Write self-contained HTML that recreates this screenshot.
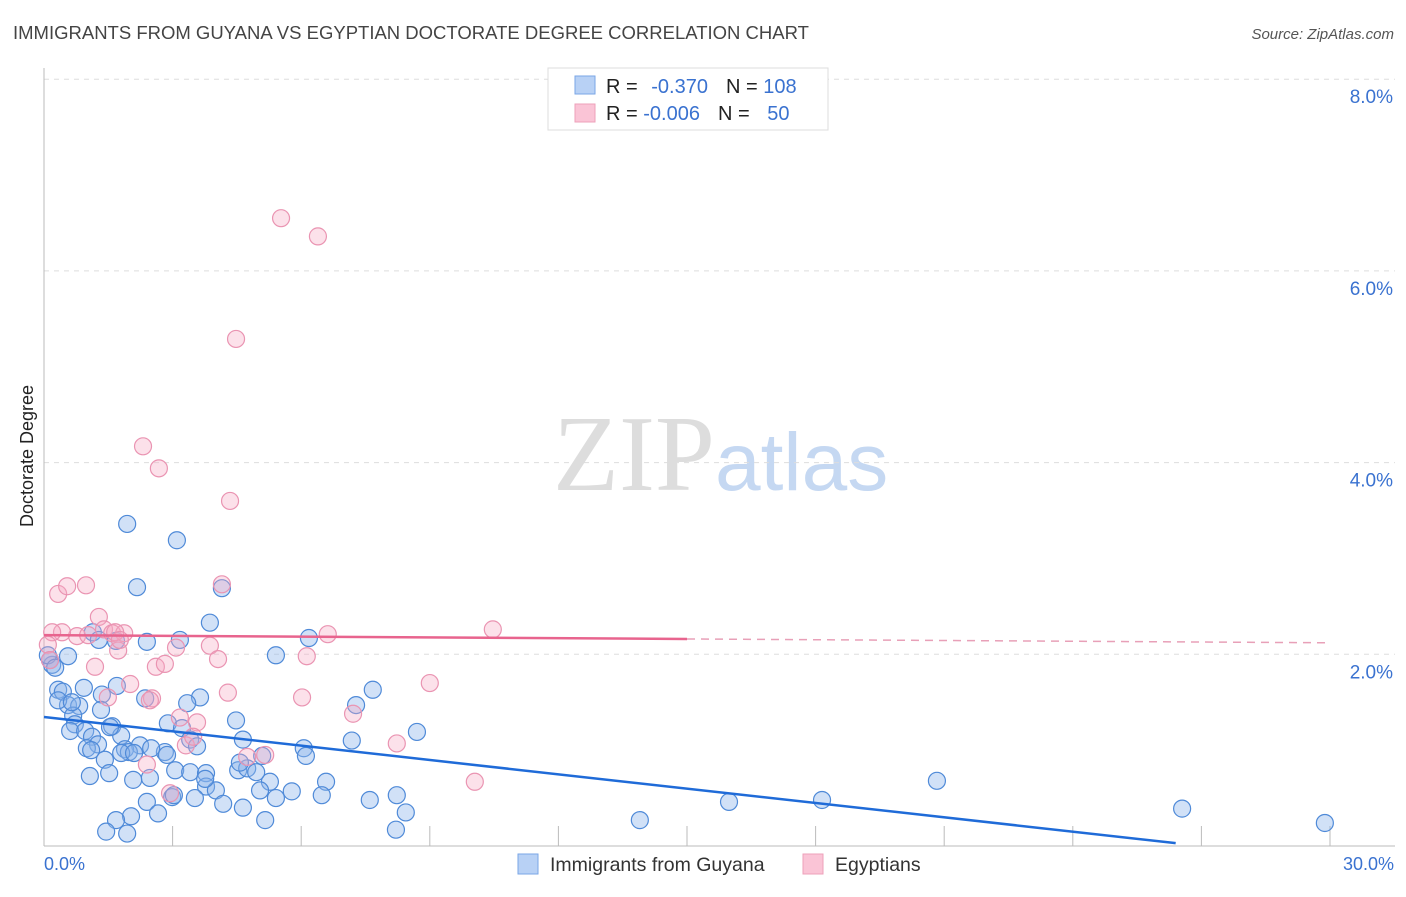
<!DOCTYPE html>
<html><head><meta charset="utf-8"><style>
body{margin:0;background:#fff;font-family:"Liberation Sans",sans-serif;}
</style></head><body>
<svg width="1406" height="892" xmlns="http://www.w3.org/2000/svg" style="font-family:'Liberation Sans',sans-serif">
<text x="13" y="39" font-size="18.5" fill="#444">IMMIGRANTS FROM GUYANA VS EGYPTIAN DOCTORATE DEGREE CORRELATION CHART</text>
<text x="1394" y="39" font-size="15" fill="#555" font-style="italic" text-anchor="end">Source: ZipAtlas.com</text>
<text x="553" y="490" font-size="108" fill="#ddd" font-family="Liberation Serif">ZIP<tspan fill="#c5d8f2" font-family="Liberation Sans" font-size="82">atlas</tspan></text>
<text transform="translate(33,456) rotate(-90)" font-size="18" fill="#222" text-anchor="middle">Doctorate Degree</text>
<g id="grid"></g><g id="pts"></g><g id="lines"></g>
<g>
<rect x="548" y="68" width="280" height="62" fill="#fff" stroke="#ddd"/>
<rect x="575" y="76" width="20" height="18" fill="#b8d1f5" stroke="#7aa6e6"/>
<rect x="575" y="104" width="20" height="18" fill="#fac4d6" stroke="#eea0ba"/>
<text x="606" y="93" font-size="20" fill="#222">R = <tspan fill="#3a72d0" dx="8">-0.370</tspan><tspan dx="18">N = </tspan><tspan fill="#3a72d0">108</tspan></text>
<text x="606" y="120" font-size="20" fill="#222">R = <tspan fill="#3a72d0">-0.006</tspan><tspan dx="18">N = </tspan><tspan fill="#3a72d0" dx="12">50</tspan></text>
</g>
<g>
<rect x="518" y="854" width="20" height="20" fill="#b8d1f5" stroke="#7aa6e6"/>
<text x="550" y="871" font-size="19.5" fill="#333">Immigrants from Guyana</text>
<rect x="803" y="854" width="20" height="20" fill="#fac4d6" stroke="#eea0ba"/>
<text x="835" y="871" font-size="19.5" fill="#333">Egyptians</text>
</g>
<text x="44" y="870" font-size="18" fill="#3a72d0">0.0%</text>
<text x="1394" y="870" font-size="18" fill="#3a72d0" text-anchor="end">30.0%</text>
</svg>
<script>
const blueX=[0.14,0.19,0.09,0.26,1.94,3.10,2.17,4.15,3.87,1.14,1.68,2.40,3.17,5.41,6.18,0.56,1.28,0.33,0.44,0.93,1.35,1.70,2.36,3.64,3.34,4.48,7.28,7.67,8.70,0.56,0.82,0.68,0.72,0.61,0.96,1.59,1.12,1.26,1.80,2.89,3.22,3.41,4.64,3.57,1.00,1.10,2.24,1.89,1.98,2.82,2.50,1.80,1.42,1.52,1.07,2.47,3.06,3.41,3.78,4.53,4.74,4.95,5.09,6.06,6.11,5.27,6.58,7.18,3.78,4.01,2.40,2.99,3.52,4.18,4.64,5.41,5.78,6.48,7.60,8.23,8.44,8.21,5.16,2.03,2.66,1.68,1.45,1.94,13.90,15.98,18.15,20.83,26.55,29.88,2.87,4.57,0.33,1.33,3.76,5.04,2.08,0.65,1.54,3.03,2.10];
const blueY=[1.94,1.89,1.99,1.86,3.36,3.19,2.70,2.69,2.33,2.23,2.14,2.13,2.15,1.99,2.17,1.98,2.15,1.63,1.61,1.65,1.58,1.67,1.54,1.55,1.49,1.31,1.47,1.63,1.19,1.47,1.46,1.36,1.27,1.20,1.20,1.25,1.14,1.06,1.15,1.28,1.23,1.11,1.11,1.04,1.02,1.00,1.05,1.01,0.98,0.98,1.02,0.97,0.90,0.76,0.73,0.71,0.79,0.77,0.76,0.79,0.81,0.77,0.94,1.02,0.94,0.67,0.67,1.10,0.62,0.58,0.46,0.51,0.50,0.44,0.40,0.50,0.57,0.53,0.48,0.53,0.35,0.17,0.27,0.31,0.34,0.27,0.15,0.13,0.27,0.46,0.48,0.68,0.39,0.24,0.95,0.87,1.52,1.42,0.70,0.58,0.69,1.50,1.24,0.53,0.97];
const pinkX=[5.53,6.39,4.48,2.31,2.68,4.34,4.15,0.33,0.54,0.98,1.28,1.40,0.77,0.42,0.19,0.09,0.14,1.03,1.19,1.59,1.87,1.73,1.49,2.01,2.52,2.61,2.82,3.08,3.87,4.06,6.13,6.62,10.47,4.29,6.02,7.21,9.00,3.17,3.57,3.31,3.48,5.16,4.74,8.23,10.05,2.40,2.94,2.47,1.66,1.77];
const pinkY=[6.55,6.36,5.29,4.17,3.94,3.60,2.73,2.63,2.71,2.72,2.39,2.26,2.19,2.23,2.23,2.10,1.94,2.20,1.87,2.22,2.22,2.04,1.55,1.69,1.54,1.87,1.90,2.07,2.09,1.95,1.98,2.21,2.26,1.60,1.55,1.38,1.70,1.34,1.29,1.05,1.14,0.95,0.93,1.07,0.67,0.85,0.55,1.52,2.23,2.15];
const yTicks=[2,4,6,8];
const yTickLabels=["2.0%","4.0%","6.0%","8.0%"];
const xTicks=[0,3,6,9,12,15,18,21,24,27,30];
const blueTrend=[[0,1.346],[26.4,0.03]];
const pinkTrend=[[0,2.20],[15,2.16],[30,2.12]];
const NS='http://www.w3.org/2000/svg';
const X=v=>44+v/30*1286, Y=v=>846-v*95.85;
function mk(t,a,p){const e=document.createElementNS(NS,t);for(const k in a)e.setAttribute(k,a[k]);p.appendChild(e);return e;}
const g=document.getElementById('grid');
yTicks.forEach((t,i)=>{
 const l=mk('line',{x1:44,x2:1395,y1:Y(t),y2:Y(t),stroke:'#ddd','stroke-dasharray':'5,5'},g);
 
 
 const tx=mk('text',{x:1393,y:Y(t)+24,'font-size':19,fill:'#3a72d0','text-anchor':'end'},g);
 tx.textContent=yTickLabels[i];
 
 
});
const ax=mk('line',{x1:44,x2:44,y1:68,y2:846,stroke:'#bbb'},g);


const bx=mk('line',{x1:44,x2:1395,y1:846,y2:846,stroke:'#bbb'},g);


xTicks.forEach(t=>{const l=mk('line',{x1:X(t),x2:X(t),y1:826,y2:846,stroke:'#bbb'},g);
 
 });
const p=document.getElementById('pts');
blueX.forEach((x,i)=>{const c=mk('circle',{cx:X(x),cy:Y(blueY[i]),r:8.5,fill:'rgba(140,180,235,0.4)',stroke:'#4f8ad8','stroke-width':1.2},p);
 
 });
pinkX.forEach((x,i)=>{const c=mk('circle',{cx:X(x),cy:Y(pinkY[i]),r:8.5,fill:'rgba(245,170,195,0.35)',stroke:'#ea94b2','stroke-width':1.2},p);
 
 });
const L=document.getElementById('lines');
const b=mk('line',{x1:X(blueTrend[0][0]),y1:Y(blueTrend[0][1]),x2:X(blueTrend[1][0]),y2:Y(blueTrend[1][1]),stroke:'#1f6bd8','stroke-width':2.5},L);


const pk=mk('line',{x1:X(pinkTrend[0][0]),y1:Y(pinkTrend[0][1]),x2:X(pinkTrend[1][0]),y2:Y(pinkTrend[1][1]),stroke:'#e8648e','stroke-width':2.5},L);


const pd=mk('line',{x1:X(pinkTrend[1][0]),y1:Y(pinkTrend[1][1]),x2:X(pinkTrend[2][0]),y2:Y(pinkTrend[2][1]),stroke:'#e8a0b8','stroke-width':1.5,'stroke-dasharray':'8,6'},L);


</script>
</body></html>
